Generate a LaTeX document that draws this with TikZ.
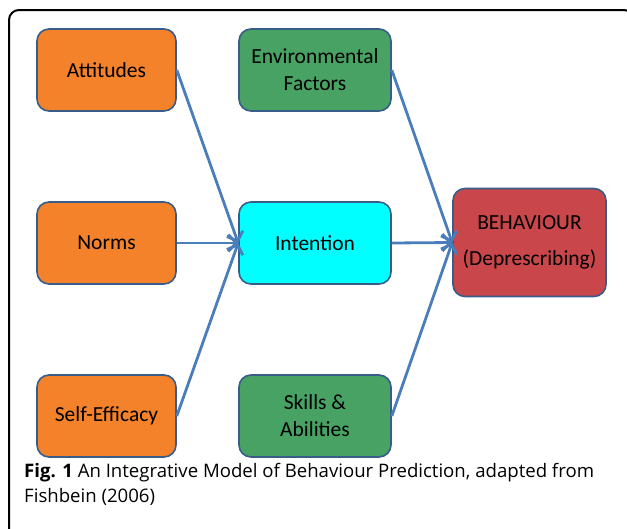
\documentclass[tikz,border=0pt]{standalone}
\usepackage{fontspec}
\usetikzlibrary{arrows.meta}
\newfontfamily\boxfont{Carlito}
\newfontfamily\capfont{Open Sans}
\definecolor{boxline}{HTML}{385D8A}
\definecolor{arrowblue}{HTML}{4A7EBB}
\definecolor{orangefill}{HTML}{F4822A}
\definecolor{greenfill}{HTML}{47A264}
\definecolor{cyanfill}{HTML}{00FFFF}
\definecolor{redfill}{HTML}{C9464A}

\begin{document}
\begin{tikzpicture}[x=1pt,y=-1pt,
  box/.style={draw=boxline,line width=1.6pt,rounded corners=12pt,
    minimum width=139pt,minimum height=82pt,align=center,
    font=\boxfont\fontsize{21.5}{27}\selectfont},
  link/.style={draw=arrowblue,line width=2.8pt,
    -{Straight Barb[length=8pt,width=17pt,line width=2.8pt]}}]

  \clip (0,0) rectangle (627,528);
  \useasboundingbox (0,0) rectangle (627,528);

  %% frame
  \draw[line width=2pt,rounded corners=10pt] (9,560) -- (9,10) -- (634,10) -- (634,40);

  %% left column
  \node [box,fill=orangefill] (att) at (106.5,70) {Attitudes};
  \node [box,fill=orangefill] (nor) at (106.5,243) {Norms};
  \node [box,fill=orangefill] (eff) at (106.5,416) {Self-Efficacy};

  %% middle column
  \node [box,fill=greenfill,minimum width=152pt] (env) at (315,70) {Environmental\\Factors};
  \node [box,fill=cyanfill,minimum width=152pt] (int) at (315,243) {Intention};
  \node [box,fill=greenfill,minimum width=152pt] (ski) at (315,416) {Skills \&\\Abilities};

  %% behaviour
  \node [box,fill=redfill,minimum width=153pt,minimum height=108pt] (beh) at (529.5,242.5)
    {BEHAVIOUR\\[9pt](Deprescribing)};

  %% connections
  \draw [link] (att.east) -- (int.west);
  \draw [link] (nor.east) -- (int.west);
  \draw [link] (eff.east) -- (int.west);
  \draw [link] (env.east) -- (beh.west);
  \draw [link] (int.east) -- (beh.west);
  \draw [link] (ski.east) -- (beh.west);

  %% caption
  \node [anchor=north west,align=left,inner sep=0pt,
    font=\capfont\fontsize{18.6}{25}\selectfont] (cap) at (24,463.5)
    {\textbf{Fig. 1} An Integrative Model of Behaviour Prediction, adapted from\\Fishbein (2006)};
\end{tikzpicture}
\end{document}
